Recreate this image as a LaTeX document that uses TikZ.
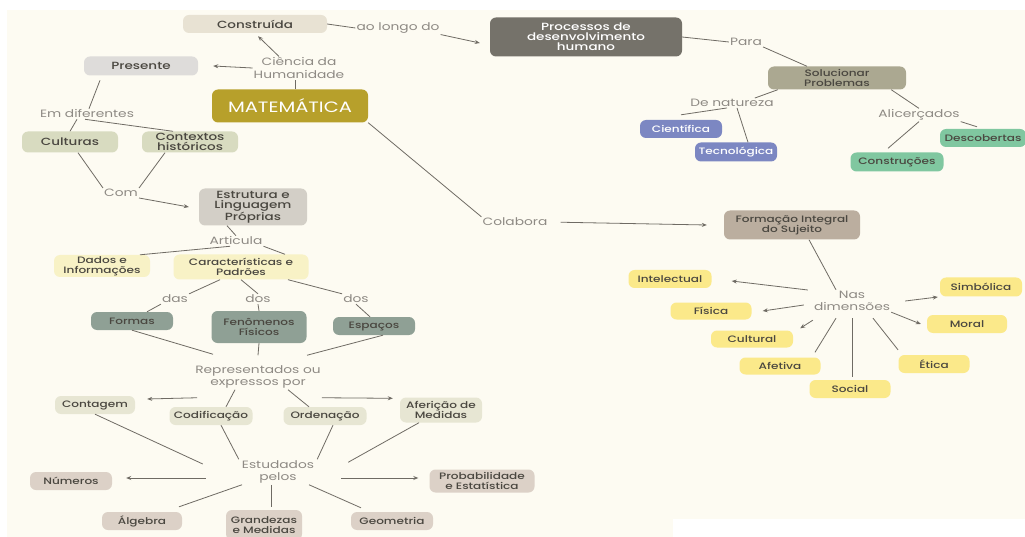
\documentclass[tikz,border=0pt]{standalone}
\usepackage{fontspec}
\setmainfont{Poppins}[FakeStretch=1.3]
\newfontfamily\boxfont{Poppins Medium}[FakeStretch=1.3]
\usetikzlibrary{arrows.meta,positioning}

\definecolor{paper}{HTML}{FDFBF2}
\definecolor{linegray}{HTML}{6F6B64}
\definecolor{wordgray}{HTML}{8E8A84}
\definecolor{boxtext}{HTML}{4A4740}
\definecolor{beige}{HTML}{E8E2D3}
\definecolor{lightgray}{HTML}{DEDCDA}
\definecolor{gold}{HTML}{B7A02B}
\definecolor{sage}{HTML}{D8DBC0}
\definecolor{stone}{HTML}{D3CFC7}
\definecolor{cream}{HTML}{F8F2C6}
\definecolor{moss}{HTML}{8FA095}
\definecolor{pale}{HTML}{E7E6D3}
\definecolor{sand}{HTML}{DCD1C7}
\definecolor{slate}{HTML}{75726A}
\definecolor{olive}{HTML}{ABA891}
\definecolor{lavender}{HTML}{7C87C2}
\definecolor{mint}{HTML}{80C7A0}
\definecolor{taupe}{HTML}{BBAE9F}
\definecolor{lemon}{HTML}{FBE98A}

\tikzset{
  concept/.style={rounded corners=6pt, inner sep=0pt, align=center, text=boxtext,
    font=\boxfont\fontsize{9.3}{9.8}\selectfont},
  bigconcept/.style={concept, font=\boxfont\fontsize{10.4}{10.4}\selectfont},
  phrase/.style={inner sep=1pt, align=center, text=wordgray,
    font=\fontsize{10.6}{12.5}\selectfont},
  link/.style={draw=linegray, line width=0.8pt},
  arrow/.style={link, -{Stealth[length=5pt,width=4pt]}},
}

\begin{document}
\begin{tikzpicture}[x=1pt,y=-1pt]
  \useasboundingbox (0,0) rectangle (1025,537);
  \fill [paper] (7,10) rectangle (1025,537);
  \fill [white] (673,519) rectangle (1025,537);

  % top row
  \node [bigconcept, fill=beige, minimum width=144pt, minimum height=18pt] (constr) at (255,24) {Construída};
  \node [phrase] (aolongo) at (398,28) {ao longo do};
  \node [bigconcept, fill=slate, text=white, minimum width=192pt, minimum height=39pt, font=\boxfont\fontsize{10.4}{9.8}\selectfont] (proc) at (586,37) {Processos de\\desenvolvimento\\humano};
  \node [phrase] (para) at (746,42) {Para};
  \node [concept, fill=olive, minimum width=138pt, minimum height=23pt] (soluc) at (837,78) {Solucionar\\Problemas};
  \node [phrase] (natureza) at (732,103) {De natureza};
  \node [concept, fill=lavender, text=white, minimum width=82pt, minimum height=18pt] (cient) at (681,129) {Científica};
  \node [concept, fill=lavender, text=white, minimum width=82pt, minimum height=19pt] (tecno) at (736,152) {Tecnológica};
  \node [phrase] (alicer) at (919,115) {Alicerçados};
  \node [concept, fill=mint, minimum width=86pt, minimum height=18pt] (descob) at (983,138) {Descobertas};
  \node [concept, fill=mint, minimum width=93pt, minimum height=19pt] (constru) at (897,162) {Construções};

  % left column
  \node [phrase] (ciencia) at (299,68) {Ciência da\\Humanidade};
  \node [bigconcept, fill=lightgray, minimum width=114pt, minimum height=19pt] (pres) at (141,66) {Presente};
  \node [concept, fill=gold, text=white, minimum width=156pt, minimum height=33pt, font=\fontsize{15}{15}\selectfont] (mat) at (290,106) {MATEMÁTICA};
  \node [phrase] (emdif) at (87,114) {Em diferentes};
  \node [bigconcept, fill=sage, minimum width=96pt, minimum height=21pt] (cult) at (70,142) {Culturas};
  \node [bigconcept, fill=sage, minimum width=96pt, minimum height=21pt] (context) at (190,142) {Contextos\\históricos};
  \node [phrase] (com) at (121,193) {Com};
  \node [bigconcept, fill=stone, minimum width=108pt, minimum height=37pt, font=\boxfont\fontsize{10.4}{10}\selectfont] (estrut) at (253,207) {Estrutura e\\Linguagem\\Próprias};
  \node [phrase] (artic) at (236,241) {Articula};
  \node [concept, fill=cream, minimum width=96pt, minimum height=22pt] (dados) at (102,266) {Dados e\\Informações};
  \node [concept, fill=cream, minimum width=135pt, minimum height=25pt] (caract) at (241,267) {Características e\\Padrões};
  \node [phrase] (das) at (175,299) {das};
  \node [phrase] (dosa) at (258,299) {dos};
  \node [phrase] (dosb) at (356,299) {dos};
  \node [concept, fill=moss, minimum width=82pt, minimum height=18pt] (formas) at (132,321) {Formas};
  \node [concept, fill=moss, minimum width=95pt, minimum height=32pt] (fenom) at (259,327) {Fenômenos\\Físicos};
  \node [concept, fill=moss, minimum width=82pt, minimum height=18pt] (espacos) at (374,326) {Espaços};
  \node [phrase] (repres) at (258,377) {Representados ou\\expressos por};
  \node [concept, fill=pale, minimum width=80pt, minimum height=18pt] (contag) at (95,405) {Contagem};
  \node [concept, fill=pale, minimum width=83pt, minimum height=18pt] (codif) at (211,416) {Codificação};
  \node [concept, fill=pale, minimum width=83pt, minimum height=18pt] (orden) at (325,416) {Ordenação};
  \node [concept, fill=pale, minimum width=82pt, minimum height=25pt] (aferi) at (441,410) {Aferição de\\Medidas};
  \node [phrase] (estud) at (278,472) {Estudados\\pelos};
  \node [concept, fill=sand, minimum width=82pt, minimum height=18pt] (numeros) at (71,481) {Números};
  \node [concept, fill=sand, minimum width=105pt, minimum height=23pt] (probab) at (482,481) {Probabilidade\\e Estatística};
  \node [concept, fill=sand, minimum width=80pt, minimum height=18pt] (algebra) at (142,521) {Álgebra};
  \node [concept, fill=sand, minimum width=76pt, minimum height=30pt] (grand) at (264,525) {Grandezas\\e Medidas};
  \node [concept, fill=sand, minimum width=82pt, minimum height=18pt] (geom) at (392,521) {Geometria};

  % right side
  \node [phrase] (colab) at (515,222) {Colabora};
  \node [concept, fill=taupe, minimum width=136pt, minimum height=29pt] (formacao) at (792,225) {Formação Integral\\do Sujeito};
  \node [phrase] (nasdim) at (852,301) {Nas\\dimensões};
  \node [concept, fill=lemon, minimum width=83pt, minimum height=18pt] (intel) at (670,279) {Intelectual};
  \node [concept, fill=lemon, minimum width=81pt, minimum height=17pt] (fisica) at (711,311) {Física};
  \node [concept, fill=lemon, minimum width=82pt, minimum height=17pt] (cultural) at (752,339) {Cultural};
  \node [concept, fill=lemon, minimum width=81pt, minimum height=17pt] (afetiva) at (780,366) {Afetiva};
  \node [concept, fill=lemon, minimum width=81pt, minimum height=18pt] (social) at (850,389) {Social};
  \node [concept, fill=lemon, minimum width=71pt, minimum height=18pt] (etica) at (934,364) {Ética};
  \node [concept, fill=lemon, minimum width=80pt, minimum height=18pt] (moral) at (967,324) {Moral};
  \node [concept, fill=lemon, minimum width=82pt, minimum height=19pt] (simb) at (981,287) {Simbólica};

  % connectors, top
  \draw [link] (constr.east) -- (aolongo.west);
  \draw [arrow] (aolongo.south east) -- ([xshift=-10pt,yshift=-6pt]proc.west);
  \draw [link] (proc.east) -- (para.west);
  \draw [link] (para.south east) -- ([xshift=-30pt]soluc.north);
  \draw [link] ([xshift=10pt]soluc.south west) -- ([xshift=-20pt]natureza.north east);
  \draw [link] ([xshift=-5pt]natureza.south) -- ([yshift=5pt]cient.north);
  \draw [link] ([xshift=5pt]natureza.south) -- ([xshift=12pt]tecno.north);
  \draw [link] ([xshift=-15pt]soluc.south east) -- (alicer.north);
  \draw [link] (alicer.south east) -- ([xshift=-6pt,yshift=2pt]descob.north);
  \draw [link] (alicer.south) -- ([xshift=-9pt,yshift=4pt]constru.north);

  % connectors, left
  \draw [arrow] ([xshift=-20pt]ciencia.north) -- ([xshift=3pt,yshift=-3pt]constr.south);
  \draw [arrow] (ciencia.west) -- ([xshift=15pt]pres.east);
  \draw [link] ([xshift=5pt]mat.north) -- ([xshift=5pt]mat.north |- ciencia.south);
  \draw [link] (mat.south east) -- (colab.north west);
  \draw [link, shorten <=5pt] ([xshift=18pt]pres.south west) -- ([xshift=2pt]emdif.north);
  \draw [link] ([xshift=-10pt]emdif.south) -- (cult.north);
  \draw [link] ([xshift=-2pt]emdif.south) -- ([xshift=-17pt]context.north);
  \draw [link] ([xshift=8pt]cult.south) -- (com.north west);
  \draw [link] ([xshift=-25pt]context.south) -- (com.north east);
  \draw [arrow] (com.south east) -- ([xshift=-10pt]estrut.west);
  \draw [link] ([xshift=-26pt]estrut.south) -- (artic.north);
  \draw [link] ([xshift=-6pt]artic.south) -- ([xshift=38pt]dados.north);
  \draw [link] (artic.south east) -- ([xshift=44pt]caract.north);
  \draw [link] ([xshift=-21pt]caract.south) -- (das.north east);
  \draw [link] (das.south west) -- ([xshift=15pt]formas.north);
  \draw [link] (caract.south) -- (dosa.north);
  \draw [link] (dosa.south) -- (fenom.north);
  \draw [link] ([xshift=47pt]caract.south) -- (dosb.north west);
  \draw [link] (dosb.south) -- ([xshift=-4pt]espacos.north);
  \draw [link] (formas.south) -- ([xshift=-45pt,yshift=10pt]repres.north);
  \draw [link] (fenom.south) -- ([yshift=9pt]repres.north);
  \draw [link] ([xshift=9pt]espacos.south) -- ([xshift=49pt,yshift=9pt]repres.north);
  \draw [arrow] ([xshift=3pt,yshift=-8pt]repres.south west) -- ([xshift=12pt,yshift=6pt]contag.east);
  \draw [link] ([xshift=-23pt]repres.south) -- ([xshift=15pt]codif.north);
  \draw [link] ([xshift=30pt]repres.south) -- ([xshift=-16pt]orden.north);
  \draw [arrow] ([yshift=-8pt]repres.south east) -- ([xshift=-7pt,yshift=-1pt]aferi.north west);
  \draw [link] (contag.south) -- ([xshift=-38pt,yshift=8pt]estud.west);
  \draw [link] ([xshift=10pt]codif.south) -- ([xshift=-2pt]estud.north west);
  \draw [link] ([xshift=8pt]orden.south) -- ([xshift=2pt]estud.north east);
  \draw [link] ([xshift=-22pt]aferi.south) -- ([xshift=33pt,yshift=-3pt]estud.north east);
  \draw [arrow] ([xshift=-35pt,yshift=-6pt]estud.west) -- ([xshift=14pt,yshift=3pt]numeros.east);
  \draw [arrow] ([xshift=26pt,yshift=-6pt]estud.east) -- ([xshift=-11pt,yshift=3pt]probab.west);
  \draw [link] ([xshift=-36pt]estud.south) -- ([xshift=37pt,yshift=5pt]algebra.north);
  \draw [link] ([xshift=-7pt]estud.south) -- ([xshift=7pt,yshift=3pt]grand.north);
  \draw [link] ([xshift=31pt]estud.south) -- ([xshift=-31pt,yshift=4pt]geom.north);

  % connectors, right
  \draw [arrow, shorten <=12pt] (colab.east) -- ([xshift=-17pt]formacao.west);
  \draw [link] ([xshift=17pt]formacao.south) -- ([xshift=-16pt]nasdim.north);
  \draw [arrow] ([xshift=-5pt,yshift=11pt]nasdim.west) -- ([xshift=20pt,yshift=-2pt]intel.east);
  \draw [arrow] ([xshift=-9pt,yshift=-4pt]nasdim.west) -- ([xshift=11pt]fisica.east);
  \draw [arrow] ([yshift=-8pt]nasdim.south west) -- ([xshift=7pt,yshift=2pt]cultural.north east);
  \draw [link] ([xshift=-16pt,yshift=-6pt]nasdim.south) -- ([xshift=35pt,yshift=5pt]afetiva.north);
  \draw [link] ([yshift=-6pt]nasdim.south) -- ([xshift=2pt,yshift=3pt]social.north);
  \draw [link] ([xshift=21pt,yshift=-6pt]nasdim.south) -- ([xshift=-36pt,yshift=5pt]etica.north);
  \draw [arrow] (nasdim.south east) -- ([xshift=-6pt]moral.west);
  \draw [arrow] ([xshift=14pt]nasdim.east) -- ([xshift=-2pt,yshift=-10pt]simb.west);
\end{tikzpicture}
\end{document}
